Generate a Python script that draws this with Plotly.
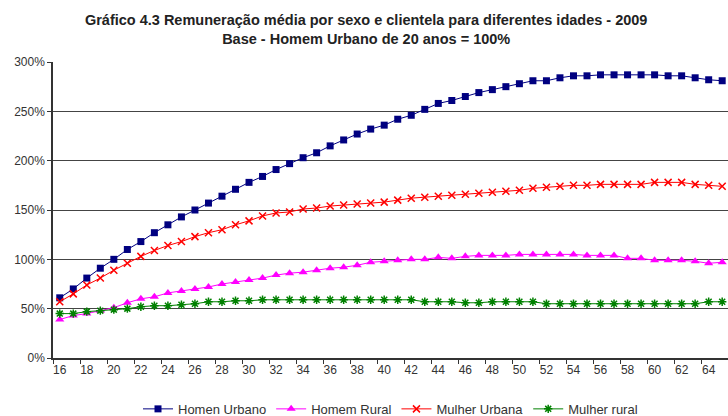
import plotly.graph_objects as go

ages = list(range(16, 66))

homem_urbano = [61, 70, 81, 91, 100, 110, 118, 127, 135, 143,
                150, 157, 164, 171, 178, 184, 191, 197, 203, 208,
                215, 221, 227, 232, 236, 242, 246, 252, 258, 261,
                265, 269, 272, 275, 278, 281, 281, 284, 286, 286,
                287, 287, 287, 287, 287, 286, 286, 284, 282, 281]
homem_rural = [39, 43, 45, 48, 51, 56, 60, 62, 66, 68,
               70, 72, 75, 77, 79, 81, 84, 86, 87, 89,
               91, 92, 94, 97, 98, 99, 100, 100, 102, 101,
               103, 104, 104, 104, 105, 105, 105, 105, 105, 104,
               104, 104, 101, 101, 99, 99, 99, 98, 96, 97]
mulher_urbana = [57, 65, 74, 81, 89, 96, 103, 109, 114, 118,
                 123, 127, 130, 135, 139, 144, 147, 148, 151, 152,
                 154, 155, 156, 157, 158, 160, 162, 163, 164, 165,
                 166, 167, 168, 169, 170, 172, 173, 174, 175, 175,
                 176, 176, 176, 176, 178, 178, 178, 176, 175, 174]
mulher_rural = [45, 45, 47, 48, 49, 50, 52, 53, 53, 54,
                55, 57, 57, 58, 58, 59, 59, 59, 59, 59,
                59, 59, 59, 59, 59, 59, 59, 57, 57, 57,
                56, 56, 57, 57, 57, 57, 55, 55, 55, 55,
                55, 55, 55, 55, 55, 55, 55, 55, 57, 57]

x_labels = list(range(16, 65, 2))
y_ticks = [0, 50, 100, 150, 200, 250, 300]

series = [
    ("Homen Urbano", homem_urbano, "#000080", dict(symbol="square", size=7, color="#000080")),
    ("Homem Rural", homem_rural, "#FF00FF", dict(symbol="triangle-up", size=8, color="#FF00FF")),
    ("Mulher Urbana", mulher_urbana, "#FF0000", dict(symbol="x-thin", size=7, line=dict(color="#FF0000", width=1.5))),
    ("Mulher rural", mulher_rural, "#008000", dict(symbol="asterisk", size=7, line=dict(color="#008000", width=1.5))),
]

fig = go.Figure()
for name, vals, col, mk in series:
    fig.add_trace(go.Scatter(x=ages, y=vals, name=name, mode="lines+markers",
                             line=dict(color=col, width=1), marker=mk, cliponaxis=False))

font_family = "Liberation Sans, Arial, sans-serif"

fig.update_layout(
    width=728, height=416,
    margin=dict(l=53, r=0, t=62, b=58, autoexpand=False),
    paper_bgcolor="white", plot_bgcolor="white",
    font=dict(family=font_family, size=12, color="#333333"),
    title=dict(
        text="Gráfico 4.3 Remuneração média por sexo e clientela para diferentes idades - 2009<br>Base - Homem Urbano de 20 anos = 100%",
        x=0.503, xanchor="center", y=0.94, yanchor="top",
        font=dict(family=font_family, size=14.5, color="#222222", weight="bold"),
    ),
    showlegend=True,
    legend=dict(orientation="h", x=0.5, xanchor="center", y=-0.172, yanchor="middle",
                font=dict(size=13, color="#333333"), bgcolor="rgba(0,0,0,0)"),
)

fig.update_xaxes(
    automargin=False,
    range=[15.5, 65.43], tickmode="array", tickvals=x_labels,
    ticktext=[str(v) for v in x_labels], ticks="", showgrid=False, zeroline=False,
    showline=True, linecolor="#333333", linewidth=1.5,
    minor=dict(tickmode="array", tickvals=[15.5 + 2 * k for k in range(25)],
               ticks="outside", ticklen=4, tickcolor="#333333", showgrid=False),
)
fig.update_yaxes(
    automargin=False,
    range=[0, 300], tickmode="array", tickvals=y_ticks,
    ticktext=[f"{v}%" for v in y_ticks], ticks="outside", ticklen=4, tickcolor="#333333",
    showgrid=True, gridcolor="#444444", gridwidth=1.2, zeroline=False,
    showline=True, linecolor="#333333", linewidth=1.5,
)

fig.write_html("out.html", config={"displayModeBar": False},
               post_script="document.body.style.margin='0';")
